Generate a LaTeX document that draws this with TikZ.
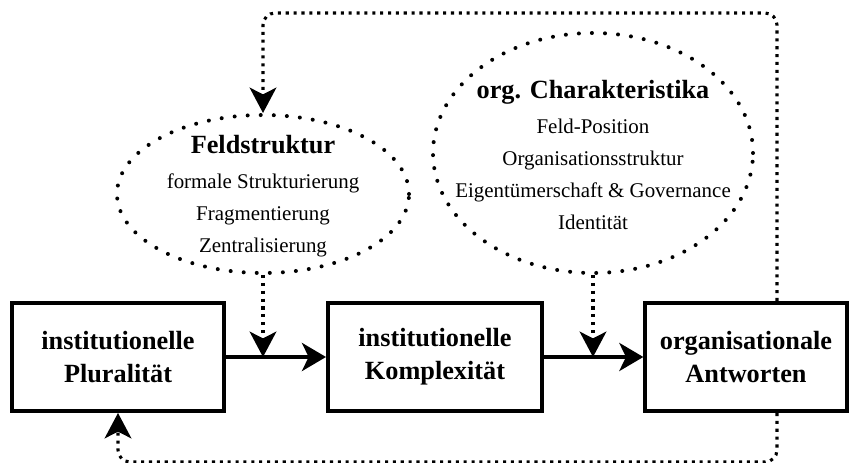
\documentclass[tikz,border=0pt]{standalone}
\usepackage{fontspec}
\setmainfont{Liberation Serif}
\usetikzlibrary{arrows.meta,shapes.geometric,calc}
\begin{document}
\begin{tikzpicture}[x=0.75pt,y=-0.75pt,
  box/.style={draw,line width=3pt,rectangle,minimum height=81pt,inner sep=0pt,
    align=center,font=\fontsize{19.7}{24.75}\selectfont\bfseries},
  oval/.style={draw,ellipse,inner sep=0pt,line width=3pt,line cap=round,
    dash pattern=on 0pt off 9.8pt},
  txt/.style={align=center,inner sep=0pt,font=\fontsize{15.7}{24}\selectfont},
  main/.style={line width=3pt,-{Stealth[length=18pt,width=21pt,inset=5pt]}},
  dotarrow/.style={line width=2.3pt,dash pattern=on 2.3pt off 3.6pt,
    -{Stealth[length=19pt,width=20pt,inset=5pt]}},
  loop/.style={dotarrow,rounded corners=9pt}]
\useasboundingbox (0,0) rectangle (850,463);

\node[box,minimum width=159pt] (b1) at (118,357) {institutionelle\\Pluralität};
\node[box,minimum width=160.5pt] (b2) at (435,357) {institutionelle\\Komplexität};
\node[box,minimum width=151pt] (b3) at (746,357) {organisationale\\Antworten};

\node[oval,minimum width=219pt,minimum height=118.5pt] (feld) at (263,194) {};
\node[txt] (feldtxt) at (263,196)
  {\fontsize{19.7}{24}\selectfont\bfseries Feldstruktur\\[2pt]
   \fontsize{15.7}{24}\selectfont\mdseries formale Strukturierung\\
   Fragmentierung\\
   Zentralisierung};

\node[oval,minimum width=240pt,minimum height=180pt] (char) at (593,153) {};
\node[txt] (chartxt) at (593,155)
  {\fontsize{19.7}{24}\selectfont\bfseries org. Charakteristika\\[2pt]
   \fontsize{15.7}{24}\selectfont\mdseries Feld-Position\\
   Organisationsstruktur\\
   Eigentümerschaft \& Governance\\
   Identität};

\draw[main] (b1.east) -- (b2.west);
\draw[main] (b2.east) -- (b3.west);

\coordinate (m1) at (feld.south |- b1.east);
\coordinate (m2) at (char.south |- b2.east);
\draw[dotarrow] (feld.south) -- (m1);
\draw[dotarrow] (char.south) -- (m2);

\draw[loop] ([xshift=23.25pt]b3.north) -- ++(0,-288) -| (feld.north);
\draw[loop] ([xshift=23.25pt]b3.south) -- ++(0,49) -| (b1.south);
\end{tikzpicture}
\end{document}
